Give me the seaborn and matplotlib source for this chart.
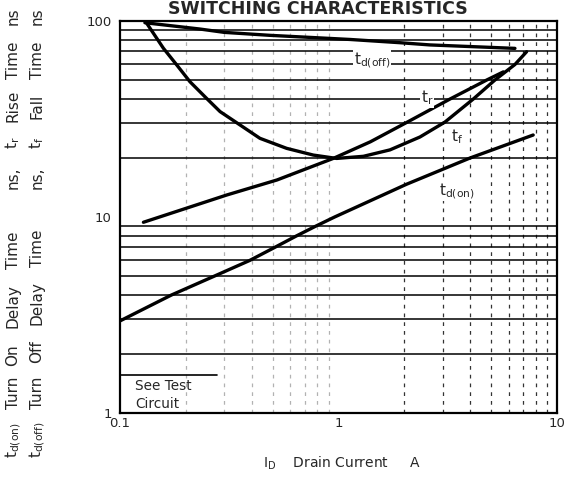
import numpy as np
import pandas as pd
import matplotlib
matplotlib.use("Agg")
import matplotlib.pyplot as plt
import seaborn as sns

# ---- data ----
tdoff_id = [0.13, 0.232, 0.3, 0.486, 1.13, 1.91, 2.62, 6.42]
tdoff_ns = [98, 91, 87.5, 84.5, 80.5, 77.5, 75.5, 72.5]

tf_id = [0.132, 0.158, 0.182, 0.209, 0.249, 0.287, 0.354, 0.437, 0.579, 0.767, 0.981,
         1.3, 1.72, 2.36, 3.07, 4.14, 5.2, 6.42, 7.26]
tf_ns = [98, 72.6, 59.6, 49.0, 40.3, 34.5, 29.5, 25.2, 22.4, 20.7, 19.9,
         20.4, 22.0, 25.6, 30.5, 40, 50, 60, 69.7]

tr_id = [0.128, 0.308, 0.523, 0.946, 1.4, 2.01, 3.24, 4.77, 5.68]
tr_ns = [9.4, 12.95, 15.45, 19.9, 24.2, 30, 40, 50, 55]

tdon_id = [0.1, 0.172, 0.271, 0.392, 0.511, 0.641, 0.79, 0.96, 2.05, 4.0, 7.78]
tdon_ns = [2.95, 4, 5, 6, 7, 8, 9, 10, 14.7, 20, 26.2]

x_ticks = [0.1, 1, 10]
x_ticklabels = ["0.1", "1", "10"]
y_ticks = [1, 10, 100]
y_ticklabels = ["1", "10", "100"]

series = {"td(off)": (tdoff_id, tdoff_ns), "tf": (tf_id, tf_ns),
          "tr": (tr_id, tr_ns), "td(on)": (tdon_id, tdon_ns)}
frames = []
for name, (xs, ys) in series.items():
    frames.append(pd.DataFrame({"id": xs, "t": ys, "curve": name}))
df = pd.concat(frames, ignore_index=True)

sns.set_style("white")
plt.rcParams["font.family"] = ["DejaVu Sans"]
plt.rcParams["mathtext.default"] = "regular"

W, H = 575, 486
fig = plt.figure(figsize=(W / 100, H / 100), dpi=100)
ax = fig.add_axes([120 / W, 1 - 413 / H, 437 / W, 392 / H])

ax.set_xscale("log")
ax.set_yscale("log")
ax.set_xlim(0.1, 10)
ax.set_ylim(1, 100)

# grid: solid horizontal lines at every minor step, dashed verticals
for dec in [1, 10]:
    for m in range(2, 10):
        ax.axhline(dec * m, color="black", lw=1.1, zorder=1)
for dec in [0.1, 1]:
    for m in range(2, 10):
        ax.axvline(dec * m, color="black", lw=0.9, ls=(0, (3, 4)), zorder=1,
                   alpha=0.8 if dec == 1 else 0.3)

for name in series:
    sub = df[df["curve"] == name]
    sns.lineplot(data=sub, x="id", y="t", ax=ax, color="black", lw=2.4,
                 sort=False, estimator=None, legend=False, zorder=3)

ax.set_xticks(x_ticks)
ax.set_xticklabels(x_ticklabels)
ax.set_yticks(y_ticks)
ax.set_yticklabels(y_ticklabels)
ax.minorticks_off()
ax.tick_params(axis="x", length=0, labelsize=9.5, pad=3)
ax.tick_params(axis="y", length=0, labelsize=9.5, pad=6)
ax.set_xlabel("")
ax.set_ylabel("")
for s in ax.spines.values():
    s.set_color("black")
    s.set_linewidth(1.6)

# curve labels
bb = dict(facecolor="white", edgecolor="none", pad=0.6)
ax.text(1.42, 63, "$t_{d(off)}$", fontsize=11, ha="center", va="center", bbox=bb, zorder=4)
ax.text(2.54, 40.5, "$t_r$", fontsize=11, ha="center", va="center", bbox=bb, zorder=4)
ax.text(3.5, 25.6, "$t_f$", fontsize=11, ha="center", va="center", bbox=bb, zorder=4)
ax.text(3.48, 13.6, "$t_{d(on)}$", fontsize=11, ha="center", va="center", bbox=bb, zorder=4)

# "See Test Circuit" box
ax.text(0.117, 1.23, "See Test\nCircuit", fontsize=9.8, ha="left", va="center",
        linespacing=1.35, zorder=4)
ax.plot([0.1, 0.278], [1.56, 1.56], color="black", lw=1.2, zorder=5)

fig.text(318 / W, 1 - 9 / H, "SWITCHING CHARACTERISTICS", fontsize=12.5,
         fontweight="bold", ha="center", va="center")
fig.text(342 / W, 1 - 463 / H, "$I_D$    Drain Current     A", fontsize=10,
         ha="center", va="center")

# y-axis titles, word by word along the left margin
line1 = [("$t_{d(on)}$", 440), ("Turn", 393), ("On", 355), ("Delay", 306),
         ("Time", 250), ("ns,", 178), ("$t_r$", 143), ("Rise", 106), ("Time", 60), ("ns", 16)]
line2 = [("$t_{d(off)}$", 440), ("Turn", 393), ("Off", 352), ("Delay", 303),
         ("Time", 248), ("ns,", 178), ("$t_f$", 143), ("Fall", 106), ("Time", 60), ("ns", 16)]
for txt, yc in line1:
    fig.text(13 / W, 1 - yc / H, txt, rotation=90, fontsize=11, ha="center", va="center")
for txt, yc in line2:
    fig.text(37 / W, 1 - yc / H, txt, rotation=90, fontsize=11, ha="center", va="center")

fig.savefig("out.png", dpi=100)
